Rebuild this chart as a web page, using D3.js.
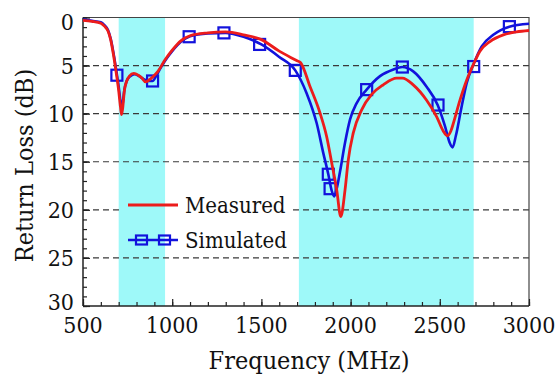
<!DOCTYPE html>
<html>
<head>
<meta charset="utf-8">
<script src="https://cdn.jsdelivr.net/npm/d3@7"></script>
<style>
  html, body { margin: 0; padding: 0; background: #fff; }
</style>
</head>
<body>
<svg id="chart" width="558" height="374"></svg>
<script>
// Measured return loss (frequency in MHz, loss in dB)
const measuredFreq = [500, 550, 600, 620, 640, 655, 670, 685, 700, 710, 716, 722, 732, 745, 760, 785, 810, 830, 850, 870, 895, 920, 960,
  1000, 1050, 1100, 1200, 1300, 1400, 1500, 1600, 1700, 1720, 1773, 1828, 1866, 1894, 1922, 1945, 1969, 1987, 2015, 2062, 2118,
  2183, 2258, 2290, 2351, 2426, 2482, 2519, 2542, 2562, 2576, 2613, 2651, 2688, 2725, 2781, 2856, 2930, 3000];
const measuredLoss = [0.3, 0.4, 0.6, 0.9, 1.4, 2.3, 3.8, 5.6, 7.6, 9.3, 10.1, 9.5, 7.6, 6.6, 6.1, 5.8, 6.0, 6.3, 6.7, 6.5, 6.1, 5.6, 4.4,
  3.4, 2.4, 1.9, 1.6, 1.5, 1.8, 2.3, 3.5, 4.5, 4.7, 7.2, 9.9, 12.4, 15.1, 17.9, 20.7, 17.9, 14.8, 12.0, 9.6, 8.0,
  7.0, 6.3, 6.3, 7.0, 8.6, 10.3, 11.8, 12.3, 11.8, 11.0, 8.6, 6.5, 4.9, 3.5, 2.5, 1.8, 1.5, 1.35];

// Simulated return loss
const simulatedFreq = [500, 550, 600, 620, 640, 655, 670, 685, 700, 710, 716, 722, 732, 745, 765, 790, 815, 840, 865, 890, 910, 930, 960,
  1000, 1050, 1100, 1200, 1300, 1400, 1500, 1600, 1690, 1754, 1810, 1847, 1875, 1894, 1908, 1922, 1940, 1969, 1997, 2034, 2090,
  2165, 2240, 2290, 2351, 2426, 2488, 2529, 2555, 2572, 2590, 2622, 2651, 2688, 2735, 2800, 2890, 3000];
const simulatedLoss = [0.2, 0.35, 0.5, 0.8, 1.3, 2.2, 3.6, 5.3, 7.2, 8.7, 9.4, 9.0, 7.5, 6.6, 6.1, 5.9, 6.1, 6.4, 6.6, 6.6, 6.1, 5.4, 4.5,
  3.5, 2.5, 1.95, 1.65, 1.6, 2.0, 2.8, 4.1, 5.5, 7.9, 11.0, 14.1, 16.3, 18.0, 18.6, 17.8, 16.1, 13.0, 10.6, 8.9, 7.5,
  6.1, 5.4, 5.15, 5.6, 7.2, 9.1, 11.3, 13.0, 13.5, 12.3, 9.3, 6.8, 4.9, 3.0, 1.8, 0.95, 0.65];

// Square markers along the simulated curve
const markerFreq = [690, 890, 1095, 1290, 1490, 1690, 1875, 1885, 2090, 2290, 2490, 2690, 2890];
const markerLoss = [6.0, 6.6, 2.0, 1.6, 2.8, 5.5, 16.3, 17.8, 7.5, 5.15, 9.1, 5.1, 0.95];

// Highlighted operating bands (MHz)
const bandStart = [700, 1710];
const bandEnd = [960, 2690];

// Axis ticks
const xTicks = [500, 1000, 1500, 2000, 2500, 3000];
const yTicks = [0, 5, 10, 15, 20, 25, 30];
const gridLevels = [5, 10, 15, 20, 25];

const seriesNames = ["Measured", "Simulated"];

const RED = "#ec1c1c";
const BLUE = "#1212dc";
const CYAN = "#9ef9f9";
const FONT = "DejaVu Serif Condensed, DejaVu Serif, serif";

const svg = d3.select("#chart").style("font-family", FONT);
const plotLeft = 83, plotRight = 529, plotTop = 17.5, plotBottom = 306;

const x = d3.scaleLinear().domain([500, 3000]).range([plotLeft, plotRight]);
const y = d3.scaleLinear().domain([0, 30]).range([plotTop, plotBottom]);

svg.append("rect").attr("width", 558).attr("height", 374).attr("fill", "#fff");

// Frequency bands
svg.append("g").selectAll("rect")
  .data(d3.range(bandStart.length))
  .join("rect")
  .attr("x", i => x(bandStart[i]))
  .attr("width", i => x(bandEnd[i]) - x(bandStart[i]))
  .attr("y", plotTop)
  .attr("height", plotBottom - plotTop)
  .attr("fill", CYAN);

// Legend area keeps the reference lines out of its box
const legendBox = { x: 122, y: 192, w: 168, h: 60 };
const defs = svg.append("defs");
const mask = defs.append("mask").attr("id", "gridMask");
mask.append("rect").attr("width", 558).attr("height", 374).attr("fill", "#fff");
mask.append("rect").attr("x", legendBox.x).attr("y", legendBox.y)
  .attr("width", legendBox.w).attr("height", legendBox.h).attr("fill", "#000");

// Dashed reference lines
svg.append("g").attr("mask", "url(#gridMask)")
  .selectAll("line")
  .data(gridLevels)
  .join("line")
  .attr("x1", plotLeft).attr("x2", plotRight)
  .attr("y1", d => y(d)).attr("y2", d => y(d))
  .attr("stroke", "#3a3a3a")
  .attr("stroke-width", 1.2)
  .attr("stroke-dasharray", "6,4");

// Frame: top and right borders
svg.append("path")
  .attr("d", `M${plotLeft},${plotTop}H${plotRight}V${plotBottom}`)
  .attr("fill", "none").attr("stroke", "#444").attr("stroke-width", 1.2);

// Bottom axis with inward ticks
const xAxis = svg.append("g").attr("transform", `translate(0,${plotBottom})`);
xAxis.append("g")
  .call(d3.axisTop(x).tickValues(d3.range(500, 3001, 100)).tickSize(4).tickFormat(""))
  .call(g => g.select(".domain").remove());
xAxis.append("g")
  .call(d3.axisTop(x).tickValues(xTicks).tickSize(7).tickFormat(""))
  .call(g => g.select(".domain").remove());
xAxis.selectAll("line").attr("stroke", "#222").attr("stroke-width", 1.2);
xAxis.append("line").attr("x1", plotLeft).attr("x2", plotRight).attr("stroke", "#222").attr("stroke-width", 1.5);
xAxis.append("g").selectAll("text")
  .data(xTicks)
  .join("text")
  .attr("x", d => x(d))
  .attr("y", 27)
  .attr("text-anchor", "middle")
  .style("font-family", FONT)
  .style("font-size", "23px")
  .attr("fill", "#111")
  .text(d => d);

// Left axis with inward ticks
const yAxis = svg.append("g").attr("transform", `translate(${plotLeft},0)`);
yAxis.append("g")
  .call(d3.axisRight(y).tickValues(d3.range(0, 31, 1)).tickSize(4).tickFormat(""))
  .call(g => g.select(".domain").remove());
yAxis.append("g")
  .call(d3.axisRight(y).tickValues(yTicks).tickSize(7).tickFormat(""))
  .call(g => g.select(".domain").remove());
yAxis.selectAll("line").attr("stroke", "#222").attr("stroke-width", 1.2);
yAxis.append("line").attr("y1", plotTop).attr("y2", plotBottom).attr("stroke", "#222").attr("stroke-width", 1.5);
yAxis.append("g").selectAll("text")
  .data(yTicks)
  .join("text")
  .attr("x", -9)
  .attr("y", d => y(d) + (d === 0 ? 4 : d === 30 ? -4 : 0))
  .attr("dy", "0.36em")
  .attr("text-anchor", "end")
  .style("font-family", FONT)
  .style("font-size", "23px")
  .attr("fill", "#111")
  .text(d => d);

// Axis titles
svg.append("text")
  .attr("x", 309).attr("y", 369)
  .attr("text-anchor", "middle")
  .style("font-family", FONT)
  .style("font-size", "25px")
  .attr("fill", "#111")
  .text("Frequency (MHz)");
svg.append("text")
  .attr("transform", "translate(33,165.5) rotate(-90)")
  .attr("text-anchor", "middle")
  .style("font-family", FONT)
  .style("font-size", "25px")
  .attr("fill", "#111")
  .text("Return Loss (dB)");

// Curves
const line = d3.line()
  .x(d => x(d[0]))
  .y(d => y(d[1]))
  .curve(d3.curveMonotoneX);

const simulated = d3.zip(simulatedFreq, simulatedLoss);
const measured = d3.zip(measuredFreq, measuredLoss);
const markers = d3.zip(markerFreq, markerLoss);

svg.append("path")
  .datum(simulated)
  .attr("d", line)
  .attr("fill", "none")
  .attr("stroke", BLUE)
  .attr("stroke-width", 2.6)
  .attr("stroke-linejoin", "round");

const mSize = 11;
svg.append("g").selectAll("rect")
  .data(markers)
  .join("rect")
  .attr("x", d => x(d[0]) - mSize / 2)
  .attr("y", d => y(d[1]) - mSize / 2)
  .attr("width", mSize)
  .attr("height", mSize)
  .attr("fill", "none")
  .attr("stroke", BLUE)
  .attr("stroke-width", 2.2);

svg.append("path")
  .datum(measured)
  .attr("d", line)
  .attr("fill", "none")
  .attr("stroke", RED)
  .attr("stroke-width", 2.8)
  .attr("stroke-linejoin", "round");

// Legend
const legend = svg.append("g");
const lx1 = 128, lx2 = 178;
const rowY = [205, 240];
legend.append("line")
  .attr("x1", lx1).attr("x2", lx2).attr("y1", rowY[0]).attr("y2", rowY[0])
  .attr("stroke", RED).attr("stroke-width", 2.8);
legend.append("line")
  .attr("x1", lx1).attr("x2", lx2).attr("y1", rowY[1]).attr("y2", rowY[1])
  .attr("stroke", BLUE).attr("stroke-width", 2.6);
legend.selectAll("rect.lm")
  .data([141.5, 164.5])
  .join("rect")
  .attr("class", "lm")
  .attr("x", d => d - 5.5).attr("y", rowY[1] - 4.5)
  .attr("width", 11).attr("height", 9)
  .attr("fill", "none").attr("stroke", BLUE).attr("stroke-width", 2.2);
legend.selectAll("text")
  .data(seriesNames)
  .join("text")
  .attr("x", 185)
  .attr("y", (d, i) => rowY[i])
  .attr("dy", "0.36em")
  .style("font-family", FONT)
  .style("font-size", "22px")
  .attr("fill", "#111")
  .text(d => d);
</script>
</body>
</html>
